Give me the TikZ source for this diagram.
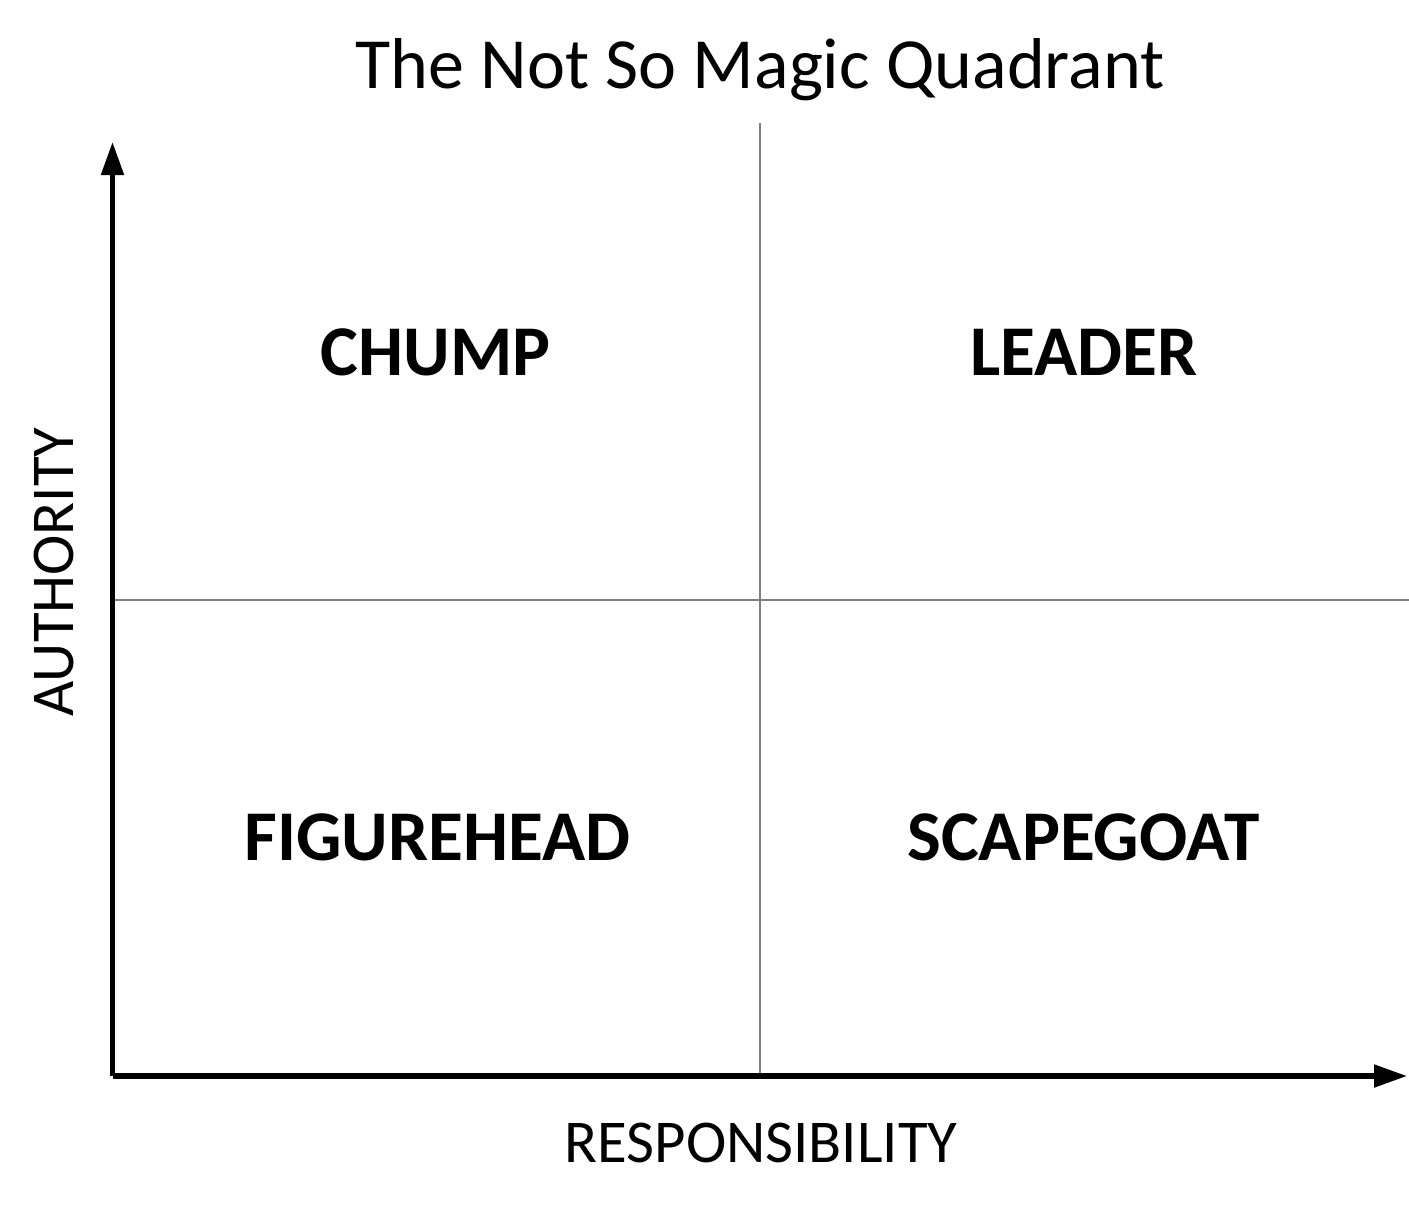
\documentclass[tikz,border=0pt]{standalone}
\usepackage{fontspec}
\setmainfont{Carlito}
\usetikzlibrary{arrows.meta,positioning}
\tikzset{
  axis/.style={line width=1.45pt, -{Triangle[length=3.3mm,width=2.2mm]}},
  divider/.style={draw=gray, line width=0.6pt},
  ttl/.style={font=\fontsize{20.5}{24}\selectfont, inner sep=0pt, anchor=base},
  axlbl/.style={font=\fontsize{17.3}{21}\selectfont, inner sep=0pt, anchor=base},
  quad/.style={font=\fontsize{20.3}{24}\selectfont\bfseries, inner sep=0pt, anchor=base},
}

\begin{document}
\begin{tikzpicture}
  \useasboundingbox (0,0) rectangle (14.09,12.08);
  % axes
  \coordinate (O) at (1.125,1.32);
  \coordinate (Ytip) at (1.125,10.66);
  \coordinate (Xtip) at (14.07,1.32);
  % dividers
  \coordinate (Vtop) at (7.60,10.85);
  \coordinate (Vbot) at (7.60,1.32);
  \coordinate (Hleft) at (1.125,6.08);
  \coordinate (Hright) at (14.09,6.08);
  \draw[divider] (Vtop) -- (Vbot);
  \draw[divider] (Hleft) -- (Hright);
  \draw[axis] (O) -- (Ytip);
  \draw[axis] (O) -- (Xtip);
  % labels
  \node[ttl] (title) at (7.60,11.20) {The Not So Magic Quadrant};
  \node[axlbl] (xlbl) at (7.61,0.46) {RESPONSIBILITY};
  \node[axlbl, rotate=90] (ylbl) at (0.73,6.36) {AUTHORITY};
  \node[quad] (chump) at (4.355,8.33) {CHUMP};
  \node[quad] (leader) at (10.84,8.33) {LEADER};
  \node[quad] (fighead) at (4.375,3.48) {FIGUREHEAD};
  \node[quad] (scape) at (10.835,3.48) {SCAPEGOAT};
\end{tikzpicture}
\end{document}
